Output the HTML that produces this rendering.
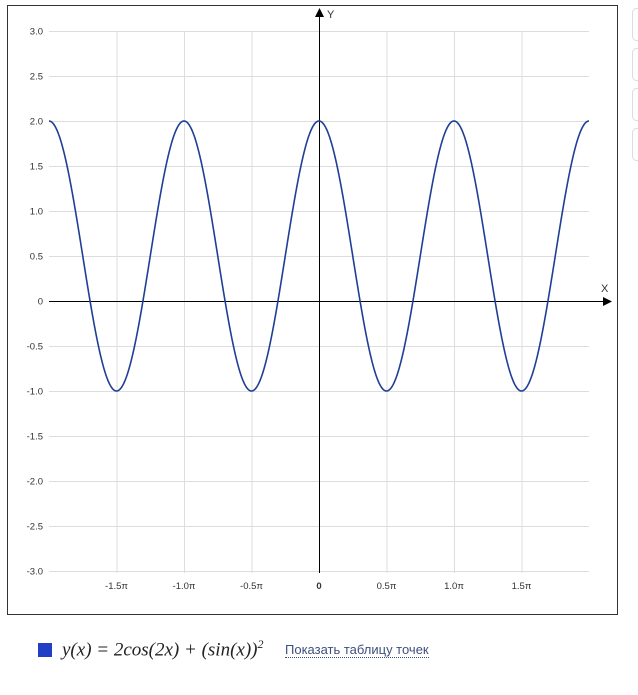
<!DOCTYPE html>
<html><head><meta charset="utf-8"><style>
body{margin:0;width:638px;height:695px;background:#fff;overflow:hidden;font-family:"Liberation Sans",sans-serif;}
svg{position:absolute;left:0;top:0}
.leg{position:absolute;left:38px;top:643px;width:14px;height:14px;background:#1f3fc4}
.f{position:absolute;left:62px;top:637px;font-family:"Liberation Serif",serif;font-style:italic;font-size:19px;color:#222;white-space:nowrap}
.lnk{position:absolute;left:285px;top:642px;font-size:13px;color:#3d4f7c;border-bottom:1px dotted #3d4f7c;line-height:15px}
</style></head><body>
<svg width="638" height="695" id="s" font-family="Liberation Sans, sans-serif" font-size="9.5"></svg>
<div class="leg"></div>
<div class="f">y(x) = 2cos(2x) + (sin(x))<sup style="font-size:12px">2</sup></div>
<div class="lnk">Показать таблицу точек</div>
<script>
var s=document.getElementById('s'),h='';
h+='<rect x="7.5" y="5.5" width="610" height="609" fill="#fff" stroke="#333" stroke-width="1"/>';
for(var i=0;i<4;i++)h+='<rect x="632.5" y="'+(8.5+i*40)+'" width="12" height="32" rx="4" fill="#fff" stroke="#ddd"/>';
var X0=319,Y0=301,sx=135/Math.PI,sy=90;
var labs=['3.0','2.5','2.0','1.5','1.0','0.5','0','-0.5','-1.0','-1.5','-2.0','-2.5','-3.0'];
for(var k=0;k<13;k++){var y=31+k*45;h+='<line x1="49" x2="589" y1="'+(y+.5)+'" y2="'+(y+.5)+'" stroke="#ddd"/>';h+='<text x="43" y="'+(y+3.5)+'" text-anchor="end" fill="#333">'+labs[k]+'</text>';}
var xl=['-1.5π','-1.0π','-0.5π','0','0.5π','1.0π','1.5π'];
for(var k=-3;k<=3;k++){var x=X0+k*67.5;if(k)h+='<line x1="'+(x+.5)+'" x2="'+(x+.5)+'" y1="31" y2="573" stroke="#ddd"/>';h+='<text x="'+x+'" y="589" text-anchor="middle" fill="#333"'+(k?'':' font-weight="bold"')+'>'+xl[k+3]+'</text>';}
h+='<line x1="49" x2="606" y1="301.5" y2="301.5" stroke="#000"/><path d="M612 301.5 L603 297 L603 306 Z"/>';
h+='<line x1="319.5" x2="319.5" y1="14" y2="573" stroke="#000"/><path d="M319.5 8 L315 17 L324 17 Z"/>';
h+='<text x="601" y="292" font-size="11" fill="#333">X</text><text x="327" y="18" font-size="11" fill="#333">Y</text>';
var d='';for(var px=49;px<=589;px+=0.5){var t=(px-X0)/sx;var v=1.5*Math.cos(2*t)+0.5;d+=(d?'L':'M')+px.toFixed(1)+' '+(Y0-v*sy).toFixed(2);}
h+='<path d="'+d+'" fill="none" stroke="#1f3f96" stroke-width="1.6"/>';
s.innerHTML=h;
</script>
</body></html>
